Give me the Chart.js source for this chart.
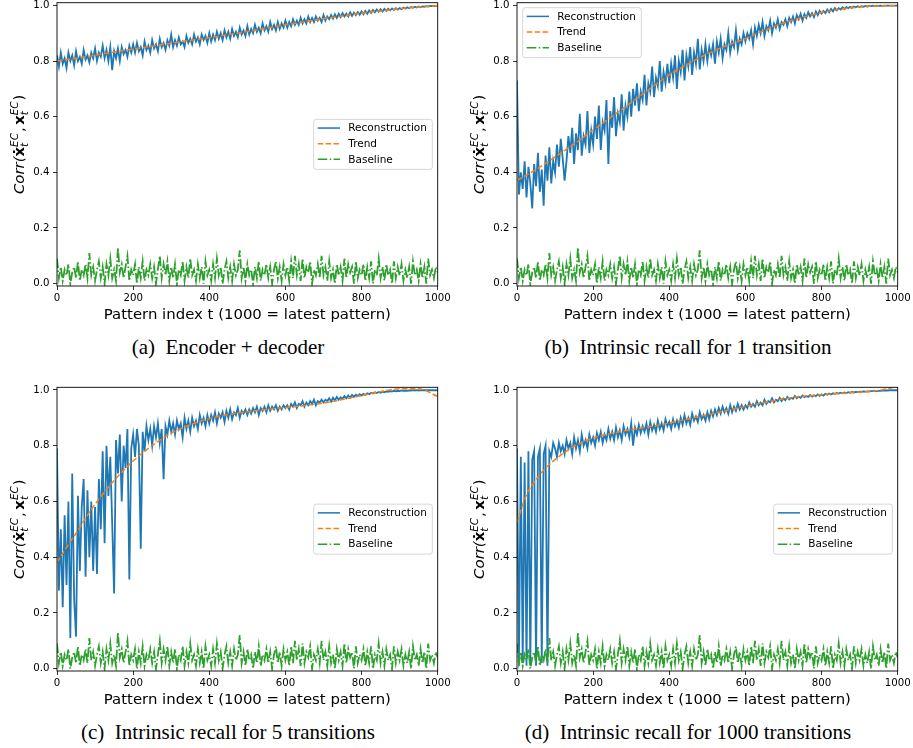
<!DOCTYPE html>
<html>
<head>
<meta charset="utf-8">
<script src="https://cdn.jsdelivr.net/npm/chart.js@4.4.0/dist/chart.umd.min.js"></script>
<style>
  html, body { margin: 0; padding: 0; background: #fff; }
  body { width: 913px; height: 748px; position: relative; overflow: hidden; }
  canvas { position: absolute; }
  .cap { position: absolute; width: 420px; text-align: center; white-space: nowrap;
         font-family: "Liberation Serif", "Times New Roman", serif; font-size: 21px; line-height: 24px; color: #000; }
</style>
</head>
<body>
<canvas id="cA" width="456" height="330" style="left:0;top:0"></canvas>
<canvas id="cB" width="453" height="330" style="left:460px;top:0"></canvas>
<canvas id="cC" width="456" height="330" style="left:0;top:385px"></canvas>
<canvas id="cD" width="453" height="330" style="left:460px;top:385px"></canvas>
<div class="cap" style="left:18px;top:335px">(a)&ensp;Encoder + decoder</div>
<div class="cap" style="left:478px;top:335px">(b)&ensp;Intrinsic recall for 1 transition</div>
<div class="cap" style="left:18px;top:720px">(c)&ensp;Intrinsic recall for 5 transitions</div>
<div class="cap" style="left:478px;top:720px">(d)&ensp;Intrinsic recall for 1000 transitions</div>
<script>
// pattern index t, sampled every 5 patterns (0..1000)
const tIdx = Array.from({ length: 201 }, (_, i) => i * 5);
const trendIdx = [0, 25, 50, 75, 100, 150, 200, 250, 300, 350, 400, 450, 500, 550, 600, 650, 700, 750, 800, 850, 900, 950, 1000];
const xTicks = [0, 200, 400, 600, 800, 1000];
const yTicks = [0.0, 0.2, 0.4, 0.6, 0.8, 1.0];
const legendLabels = ['Reconstruction', 'Trend', 'Baseline'];

// (a) encoder + decoder
const recA = [
  0.82,0.78,0.83,0.79,0.81,0.775,0.83,0.80,0.82,0.785,0.835,0.80,0.815,0.79,0.84,0.805,0.82,0.795,0.83,0.81,
  0.845,0.80,0.83,0.815,0.855,0.81,0.84,0.80,0.85,0.767,0.835,0.81,0.845,0.80,0.85,0.825,0.84,0.815,0.855,0.83,
  0.86,0.83,0.865,0.835,0.85,0.82,0.87,0.84,0.855,0.83,0.875,0.845,0.86,0.835,0.88,0.85,0.865,0.84,0.875,0.855,
  0.895,0.85,0.875,0.855,0.885,0.86,0.87,0.85,0.89,0.865,0.88,0.86,0.895,0.87,0.885,0.86,0.895,0.875,0.89,0.865,
  0.90,0.87,0.895,0.875,0.905,0.88,0.90,0.875,0.91,0.885,0.905,0.88,0.915,0.89,0.905,0.885,0.92,0.895,0.91,0.89,
  0.925,0.895,0.915,0.90,0.93,0.905,0.92,0.90,0.935,0.91,0.925,0.905,0.94,0.915,0.93,0.91,0.94,0.915,0.935,0.92,
  0.945,0.92,0.94,0.925,0.95,0.93,0.945,0.93,0.955,0.935,0.95,0.935,0.96,0.94,0.955,0.94,0.96,0.945,0.955,0.94,
  0.965,0.945,0.96,0.95,0.965,0.952,0.968,0.955,0.97,0.958,0.972,0.96,0.97,0.96,0.975,0.962,0.974,0.965,0.976,0.966,
  0.978,0.968,0.98,0.97,0.982,0.973,0.983,0.975,0.985,0.977,0.986,0.978,0.987,0.98,0.988,0.982,0.989,0.983,0.99,0.985,
  0.99,0.986,0.992,0.988,0.993,0.99,0.994,0.991,0.995,0.992,0.996,0.993,0.996,0.995,0.997,0.996,0.998,0.997,0.998,0.998,
  0.999
];
const trendA = [0.800,0.805,0.810,0.815,0.821,0.832,0.843,0.853,0.864,0.874,0.884,0.895,0.906,0.918,0.930,0.941,0.952,0.962,0.972,0.980,0.988,0.994,0.999];

// (b) intrinsic recall, 1 transition
const recB = [
  0.73,0.32,0.40,0.34,0.44,0.31,0.42,0.36,0.27,0.43,0.35,0.47,0.33,0.41,0.28,0.46,0.37,0.49,0.36,0.44,
  0.40,0.50,0.42,0.52,0.45,0.37,0.44,0.53,0.47,0.56,0.43,0.54,0.48,0.61,0.46,0.53,0.50,0.62,0.47,0.55,
  0.50,0.60,0.52,0.64,0.48,0.58,0.55,0.66,0.43,0.62,0.56,0.67,0.53,0.61,0.58,0.68,0.55,0.64,0.60,0.69,
  0.60,0.70,0.64,0.72,0.62,0.69,0.66,0.75,0.64,0.72,0.69,0.78,0.67,0.74,0.71,0.80,0.69,0.76,0.72,0.79,
  0.72,0.79,0.74,0.82,0.70,0.80,0.76,0.84,0.73,0.82,0.78,0.85,0.75,0.83,0.79,0.88,0.77,0.84,0.80,0.86,
  0.80,0.85,0.82,0.86,0.79,0.87,0.83,0.88,0.81,0.86,0.84,0.90,0.83,0.87,0.85,0.91,0.84,0.88,0.86,0.90,
  0.87,0.90,0.88,0.91,0.86,0.92,0.89,0.93,0.90,0.94,0.89,0.925,0.91,0.945,0.90,0.935,0.92,0.95,0.915,0.94,
  0.93,0.95,0.925,0.955,0.94,0.96,0.935,0.965,0.95,0.97,0.945,0.968,0.955,0.975,0.96,0.972,0.958,0.978,0.965,0.98,
  0.97,0.98,0.972,0.985,0.975,0.987,0.978,0.99,0.982,0.99,0.985,0.993,0.987,0.994,0.99,0.995,0.991,0.996,0.993,0.997,
  0.994,0.997,0.995,0.998,0.996,0.998,0.997,0.999,0.997,0.999,0.998,0.999,0.998,0.999,0.999,0.999,0.999,0.999,0.999,0.999,
  0.999
];
const trendB = [0.371,0.390,0.410,0.432,0.455,0.502,0.552,0.601,0.651,0.701,0.750,0.790,0.826,0.855,0.880,0.910,0.936,0.957,0.974,0.986,0.994,0.998,0.999];

// (c) intrinsic recall, 5 transitions
const recC = [
  0.79,0.28,0.50,0.22,0.55,0.30,0.60,0.11,0.70,0.25,0.115,0.62,0.35,0.58,0.68,0.33,0.64,0.40,0.60,0.35,
  0.58,0.34,0.68,0.50,0.78,0.45,0.80,0.62,0.76,0.52,0.27,0.82,0.70,0.84,0.60,0.80,0.72,0.86,0.32,0.79,
  0.84,0.76,0.86,0.80,0.43,0.85,0.78,0.87,0.82,0.86,0.80,0.87,0.83,0.88,0.81,0.86,0.68,0.87,0.84,0.89,
  0.85,0.88,0.84,0.89,0.86,0.88,0.83,0.90,0.86,0.89,0.85,0.90,0.87,0.89,0.86,0.91,0.88,0.90,0.87,0.91,
  0.88,0.91,0.89,0.92,0.88,0.915,0.90,0.92,0.885,0.925,0.90,0.93,0.895,0.92,0.91,0.935,0.90,0.925,0.915,0.93,
  0.91,0.93,0.915,0.935,0.92,0.94,0.91,0.935,0.925,0.94,0.92,0.945,0.925,0.94,0.93,0.945,0.925,0.94,0.93,0.945,
  0.935,0.945,0.93,0.95,0.94,0.955,0.935,0.95,0.945,0.96,0.94,0.955,0.945,0.96,0.95,0.965,0.945,0.96,0.955,0.965,
  0.955,0.965,0.96,0.97,0.958,0.972,0.962,0.975,0.965,0.974,0.968,0.978,0.97,0.98,0.972,0.982,0.975,0.983,0.978,0.985,
  0.98,0.986,0.982,0.988,0.985,0.99,0.987,0.992,0.989,0.993,0.99,0.994,0.992,0.995,0.993,0.996,0.994,0.997,0.995,0.997,
  0.996,0.998,0.997,0.998,0.997,0.998,0.998,0.999,0.998,0.999,0.998,0.999,0.999,0.999,0.999,0.999,0.999,0.999,0.999,0.999,
  0.999
];
const trendC = [0.380,0.435,0.485,0.540,0.590,0.675,0.745,0.800,0.845,0.875,0.897,0.912,0.922,0.930,0.937,0.944,0.953,0.966,0.980,0.994,1.004,1.004,0.977];

// (d) intrinsic recall, 1000 transitions
const recD = [
  0.79,0.01,0.76,0.02,0.74,0.01,0.78,0.01,0.75,0.78,0.01,0.76,0.79,0.02,0.77,0.80,0.01,0.78,0.76,0.81,
  0.79,0.76,0.81,0.78,0.80,0.77,0.82,0.79,0.81,0.77,0.83,0.79,0.82,0.78,0.84,0.80,0.82,0.79,0.84,0.81,
  0.83,0.80,0.845,0.82,0.85,0.81,0.84,0.82,0.86,0.825,0.85,0.82,0.865,0.83,0.855,0.82,0.87,0.84,0.86,0.83,
  0.88,0.80,0.865,0.84,0.875,0.845,0.87,0.85,0.88,0.84,0.885,0.855,0.875,0.85,0.89,0.86,0.88,0.855,0.895,0.87,
  0.885,0.86,0.895,0.87,0.89,0.865,0.90,0.875,0.91,0.88,0.90,0.875,0.915,0.89,0.905,0.885,0.92,0.895,0.91,0.89,
  0.92,0.895,0.925,0.905,0.93,0.91,0.935,0.915,0.94,0.92,0.935,0.915,0.945,0.92,0.94,0.925,0.95,0.93,0.945,0.93,
  0.945,0.935,0.955,0.94,0.95,0.94,0.96,0.945,0.955,0.945,0.965,0.95,0.96,0.955,0.97,0.955,0.965,0.96,0.972,0.96,
  0.97,0.963,0.975,0.966,0.972,0.968,0.978,0.97,0.976,0.972,0.98,0.974,0.978,0.975,0.982,0.976,0.981,0.978,0.984,0.979,
  0.984,0.98,0.986,0.983,0.987,0.984,0.988,0.986,0.989,0.987,0.99,0.988,0.991,0.989,0.992,0.99,0.993,0.991,0.993,0.992,
  0.994,0.993,0.995,0.994,0.995,0.995,0.996,0.996,0.997,0.996,0.997,0.997,0.998,0.998,0.998,0.998,0.999,0.999,0.999,0.999,
  0.999
];
const trendD = [0.525,0.624,0.678,0.720,0.750,0.798,0.828,0.845,0.857,0.869,0.881,0.896,0.911,0.926,0.941,0.955,0.968,0.977,0.983,0.988,0.992,0.998,1.013];

// baseline (same in all four panels)
const baseline = [
  0.09,0.02,0.06,0.01,0.05,0.03,0.07,0.00,0.04,0.06,0.02,0.08,0.01,0.05,0.03,0.07,0.02,0.11,0.03,0.06,
  0.01,0.05,0.08,0.02,0.06,0.00,0.07,0.03,0.09,0.02,0.05,0.01,0.13,0.04,0.07,0.02,0.06,0.10,0.01,0.05,
  0.03,0.07,0.00,0.06,0.02,0.08,0.01,0.05,0.03,0.07,0.02,0.06,0.00,0.05,0.10,0.02,0.07,0.03,0.08,0.01,
  0.06,0.02,0.07,0.00,0.05,0.03,0.08,0.01,0.06,0.02,0.09,0.03,0.05,0.01,0.07,0.02,0.06,0.00,0.08,0.03,
  0.05,0.01,0.07,0.02,0.09,0.03,0.06,0.00,0.05,0.08,0.02,0.06,0.01,0.07,0.03,0.05,0.12,0.02,0.06,0.01,
  0.07,0.03,0.05,0.00,0.06,0.02,0.08,0.01,0.05,0.03,0.07,0.02,0.06,0.00,0.05,0.08,0.02,0.06,0.01,0.07,
  0.03,0.06,0.01,0.08,0.02,0.10,0.03,0.07,0.01,0.09,0.02,0.06,0.04,0.08,0.00,0.05,0.03,0.07,0.02,0.10,
  0.03,0.06,0.01,0.08,0.02,0.05,0.00,0.07,0.03,0.06,0.01,0.09,0.02,0.07,0.04,0.06,0.00,0.08,0.02,0.05,
  0.03,0.07,0.01,0.06,0.02,0.08,0.00,0.05,0.03,0.09,0.02,0.06,0.01,0.07,0.03,0.05,0.00,0.08,0.02,0.06,
  0.03,0.07,0.01,0.05,0.02,0.06,0.00,0.08,0.03,0.05,0.01,0.07,0.02,0.06,0.00,0.09,0.03,0.05,0.02,0.06,
  0.04
];

const BLUE = '#1f77b4', ORANGE = '#ff7f0e', GREEN = '#2ca02c';
const DASH = [5.5, 2.4], DASHDOT = [9.6, 2.4, 1.5, 2.4];
const FONT = '"DejaVu Sans", Verdana, sans-serif';
Chart.defaults.font.family = FONT;
Chart.defaults.color = '#000';

const pts = (xs, ys) => ys.map((y, i) => ({ x: xs[i], y: y }));

// y label with sub/superscripts, drawn rotated
function drawYLabel(ctx, cx, cy) {
  const big = 14.9, small = 10.4;
  const parts = [
    { t: 'Corr(', f: 'italic ' + big + 'px ' + FONT },
    { t: '\u1E8B', f: 'bold ' + big + 'px ' + FONT },
    { s: true },
    { t: ',', f: big + 'px ' + FONT, gap: 2.5 },
    { t: 'x', f: 'bold ' + big + 'px ' + FONT },
    { s: true },
    { t: ')', f: big + 'px ' + FONT }
  ];
  const sf = 'italic ' + small + 'px ' + FONT;
  ctx.save();
  let total = 0;
  parts.forEach(p => {
    if (p.s) { ctx.font = sf; p.w = Math.max(ctx.measureText('EC').width, ctx.measureText('t').width) + 1; }
    else { ctx.font = p.f; p.w = ctx.measureText(p.t).width + (p.gap || 0); }
    total += p.w;
  });
  ctx.translate(cx, cy);
  ctx.rotate(-Math.PI / 2);
  ctx.fillStyle = '#000';
  ctx.textBaseline = 'alphabetic';
  ctx.textAlign = 'left';
  let x = -total / 2;
  parts.forEach(p => {
    if (p.s) {
      ctx.font = sf;
      ctx.fillText('EC', x, -6.8);
      ctx.fillText('t', x, 3.6);
    } else {
      ctx.font = p.f;
      ctx.fillText(p.t, x, 0);
    }
    x += p.w;
  });
  ctx.restore();
}

function drawLegend(ctx, ca, pos) {
  const w = 118.6, h = 50;
  const bx = pos === 'upper left' ? ca.left + 5.7 : ca.right - 5.4 - w;
  const by = pos === 'upper left' ? ca.top + 5 : (ca.top + ca.bottom) / 2 - h / 2;
  ctx.save();
  ctx.beginPath();
  if (ctx.roundRect) ctx.roundRect(bx, by, w, h, 2.5); else ctx.rect(bx, by, w, h);
  ctx.fillStyle = 'rgba(255,255,255,0.8)';
  ctx.fill();
  ctx.strokeStyle = '#cccccc';
  ctx.lineWidth = 0.8;
  ctx.stroke();
  const styles = [[BLUE, []], [ORANGE, DASH], [GREEN, DASHDOT]];
  const rows = [8.7, 24.4, 40];
  ctx.font = '10.5px ' + FONT;
  ctx.textBaseline = 'middle';
  ctx.fillStyle = '#000';
  legendLabels.forEach((lab, i) => {
    const y = by + rows[i];
    ctx.beginPath();
    ctx.setLineDash(styles[i][1]);
    ctx.strokeStyle = styles[i][0];
    ctx.lineWidth = 1.5;
    ctx.moveTo(bx + 4, y);
    ctx.lineTo(bx + 26.3, y);
    ctx.stroke();
    ctx.setLineDash([]);
    ctx.fillText(lab, bx + 34.6, y + 0.5);
  });
  ctx.restore();
}

const panelDeco = {
  id: 'panelDeco',
  afterDraw(chart, args, opts) {
    const ctx = chart.ctx, ca = chart.chartArea;
    ctx.save();
    ctx.strokeStyle = '#000';
    ctx.lineWidth = 0.9;
    ctx.strokeRect(ca.left, ca.top, ca.right - ca.left, ca.bottom - ca.top);
    ctx.restore();
    drawLegend(ctx, ca, opts.legendPos);
    drawYLabel(ctx, 24.3, (ca.top + ca.bottom) / 2);
  }
};

function makeChart(id, rec, trend, legendPos, padTop, padRight) {
  return new Chart(document.getElementById(id), {
    type: 'line',
    data: {
      datasets: [
        { label: legendLabels[0], data: pts(tIdx, rec), borderColor: BLUE, borderWidth: 1.8, order: 2 },
        { label: legendLabels[1], data: pts(trendIdx, trend), borderColor: ORANGE, borderWidth: 1.5,
          borderDash: DASH, cubicInterpolationMode: 'monotone', order: 1 },
        { label: legendLabels[2], data: pts(tIdx, baseline), borderColor: GREEN, borderWidth: 1.8,
          borderDash: DASHDOT, order: 0 }
      ]
    },
    options: {
      responsive: false,
      animation: false,
      events: [],
      layout: { padding: { left: 0, right: padRight, top: padTop, bottom: 0 } },
      elements: { point: { radius: 0 }, line: { tension: 0, fill: false, borderJoinStyle: 'miter' } },
      plugins: { legend: { display: false }, tooltip: { enabled: false }, panelDeco: { legendPos: legendPos } },
      scales: {
        x: {
          type: 'linear', min: 0, max: 1000,
          afterBuildTicks: s => { s.ticks = xTicks.map(v => ({ value: v })); },
          afterFit: s => { s.height = 44; s.paddingLeft = 0; s.paddingRight = 0; },
          ticks: { font: { size: 10.2 }, color: '#000', padding: 2, maxRotation: 0, callback: v => String(v) },
          grid: { display: true, drawOnChartArea: false, drawTicks: true, tickLength: 4, tickWidth: 0.8, tickColor: '#000' },
          border: { display: false },
          title: { display: true, text: 'Pattern index t (1000 = latest pattern)', color: '#000',
                   font: { size: 14.9 }, padding: { top: 0, bottom: 6 } }
        },
        y: {
          type: 'linear', min: -0.0085, max: 1.0095,
          afterBuildTicks: s => { s.ticks = yTicks.map(v => ({ value: v })); },
          afterFit: s => { s.width = 57; s.paddingTop = 0; s.paddingBottom = 0; },
          ticks: { font: { size: 10.2 }, color: '#000', padding: 3.5, callback: v => v.toFixed(1) },
          grid: { display: true, drawOnChartArea: false, drawTicks: true, tickLength: 4, tickWidth: 0.8, tickColor: '#000' },
          border: { display: false }
        }
      }
    },
    plugins: [panelDeco]
  });
}

makeChart('cA', recA, trendA, 'center right', 2.7, 18.3);
makeChart('cB', recB, trendB, 'upper left', 2.7, 15.3);
makeChart('cC', recC, trendC, 'center right', 2.3, 18.3);
makeChart('cD', recD, trendD, 'center right', 2.3, 15.3);
</script>
</body>
</html>
